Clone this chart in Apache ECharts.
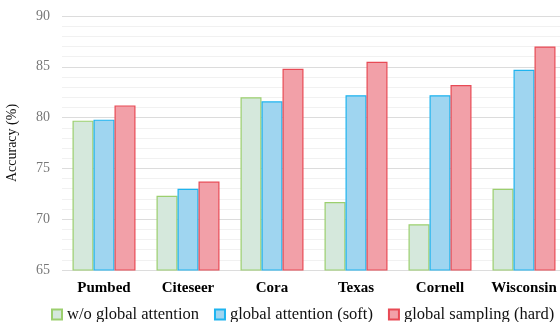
<!DOCTYPE html>
<html><head><meta charset="utf-8">
<script src="https://cdn.jsdelivr.net/npm/echarts@6/dist/echarts.min.js"></script>
<style>html,body{margin:0;padding:0;background:#fff}#c{width:560px;height:322px}</style>
</head><body><div id="c"></div>
<script>
const categories = ['Pumbed','Citeseer','Cora','Texas','Cornell','Wisconsin'];
const seriesNames = ['w/o global attention','global attention (soft)','global sampling (hard)'];
const woGlobal = [79.7, 72.3, 82.0, 71.7, 69.5, 73.0];
const soft = [79.8, 73.0, 81.6, 82.2, 82.2, 84.7];
const hard = [81.2, 73.7, 84.8, 85.5, 83.2, 87.0];
const fills = ['#d5e8dc','#9fd5f0','#f2a0a8'];
const strokes = ['#9ccf6e','#1eb4ef','#e84a55'];
const F = 'Liberation Serif';
const chart = echarts.init(document.getElementById('c'));
const mk = (name, data, i) => ({
  name, type:'bar', data, barWidth:21, barGap:'0%',
  itemStyle:{color:fills[i], borderColor:strokes[i], borderWidth:1.2}
});
chart.setOption({
  animation:false,
  textStyle:{fontFamily:F},
  grid:{left:62, width:504, top:16, bottom:52, outerBoundsMode:'none', containLabel:false},
  legend:{
    top:301, left:46, width:700, itemWidth:10, itemHeight:10, itemGap:15, icon:'rect',
    textStyle:{fontFamily:F, fontSize:16.5, color:'#111'},
    data:seriesNames
  },
  xAxis:{
    type:'category', data:categories,
    axisLine:{show:false}, axisTick:{show:false},
    axisLabel:{interval:0, hideOverlap:false, fontFamily:F, fontWeight:'bold', fontSize:15, color:'#000', margin:11}
  },
  yAxis:{
    type:'value', min:65, max:90, interval:5,
    name:'Accuracy (%)', nameLocation:'middle', nameGap:43,
    nameTextStyle:{fontFamily:F, fontSize:14, color:'#111'},
    axisLine:{show:false}, axisTick:{show:false},
    axisLabel:{fontFamily:F, fontSize:14, color:'#777', margin:12},
    splitLine:{lineStyle:{color:'#dcdcdc', width:1}},
    minorTick:{show:false, splitNumber:5},
    minorSplitLine:{show:true, lineStyle:{color:'#f1f1f1', width:1}}
  },
  series:[mk(seriesNames[0], woGlobal, 0), mk(seriesNames[1], soft, 1), mk(seriesNames[2], hard, 2)]
});
</script></body></html>
